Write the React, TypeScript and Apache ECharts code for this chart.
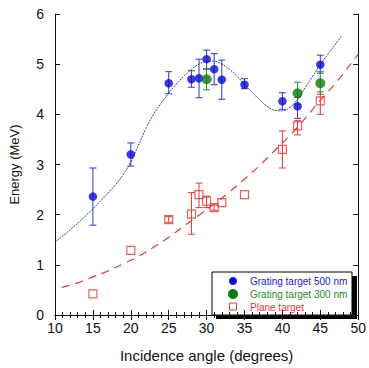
import React, { useEffect, useRef } from "react";
import * as echarts from "echarts";

// Grating target 500 nm
const angles500 = [15, 20, 25, 28, 29, 30, 31, 32, 35, 40, 42, 45];
const energy500 = [2.36, 3.2, 4.62, 4.7, 4.72, 5.1, 4.9, 4.69, 4.59, 4.26, 4.16, 4.99];
const err500Low = [1.79, 2.97, 4.41, 4.54, 4.33, 4.9, 4.59, 4.3, 4.51, 4.1, 3.92, 4.82];
const err500High = [2.93, 3.43, 4.85, 4.87, 5.1, 5.28, 5.21, 5.08, 4.71, 4.43, 4.34, 5.18];

// Grating target 300 nm
const angles300 = [30, 42, 45];
const energy300 = [4.7, 4.42, 4.62];
const err300Low = [4.49, 4.2, 4.4];
const err300High = [4.91, 4.64, 4.85];

// Plane target
const anglesPlane = [15, 20, 25, 28, 29, 30, 31, 32, 35, 40, 42, 45];
const energyPlane = [0.42, 1.29, 1.9, 2.01, 2.4, 2.27, 2.14, 2.24, 2.4, 3.3, 3.77, 4.27];
const errPlaneLow = [0.42, 1.29, 1.85, 1.61, 2.14, 2.14, 2.09, 2.24, 2.4, 2.93, 3.59, 4.0];
const errPlaneHigh = [0.42, 1.29, 1.96, 2.44, 2.63, 2.37, 2.19, 2.24, 2.4, 3.67, 3.88, 4.45];

// Fit curves
const fit500X = [10, 12, 14, 16, 18, 19, 20, 21, 22, 23, 24, 25, 26, 27, 28, 29, 30, 31, 32, 33, 34, 35, 36, 37, 38, 39, 40, 41, 42, 43, 44, 45, 46, 47, 47.8];
const fit500E = [1.45, 1.7, 1.97, 2.27, 2.6, 2.8, 3.05, 3.38, 3.72, 4.0, 4.22, 4.42, 4.6, 4.76, 4.9, 5.0, 5.06, 5.06, 5.0, 4.9, 4.76, 4.6, 4.44, 4.29, 4.16, 4.08, 4.07, 4.14, 4.3, 4.53, 4.76, 4.99, 5.2, 5.4, 5.56];
const fitPlaneX = [10.9, 13, 15, 17, 19, 21, 23, 25, 27, 29, 31, 33, 35, 37, 39, 41, 43, 45, 47, 49, 50];
const fitPlaneE = [0.55, 0.64, 0.76, 0.88, 1.02, 1.17, 1.35, 1.55, 1.77, 1.99, 2.21, 2.45, 2.71, 2.98, 3.28, 3.58, 3.92, 4.28, 4.62, 5.0, 5.2];

// Axis ticks
const xMin = 10, xMax = 50, xStep = 5;
const yMin = 0, yMax = 6, yStep = 1;

const legendLabels = ["Grating target 500 nm", "Grating target 300 nm", "Plane target"];

const FONT = "Liberation Sans, Arial, Helvetica, sans-serif";
const BLUE = "#0a0ad2";
const BLUE_ERR = "#3535c8";
const GREEN = "#0b7a0b";
const GREEN_ERR = "#2e8a2e";
const RED = "#e03a3a";
const FIT_BLUE = "#2d4a7c";

function pairs(xs: number[], ys: number[]) {
  return xs.map((x, i) => [x, ys[i]]);
}
function errs(xs: number[], lo: number[], hi: number[]) {
  return xs
    .map((x, i) => [x, lo[i], hi[i]])
    .filter((d) => d[2] - d[1] > 0.01);
}

function errorSeries(data: number[][], color: string, z: number) {
  return {
    type: "custom",
    z,
    data,
    encode: { x: 0, y: [1, 2] },
    renderItem: (params: any, api: any) => {
      const x = api.value(0);
      const lo = api.value(1);
      const hi = api.value(2);
      const p1 = api.coord([x, hi]);
      const p2 = api.coord([x, lo]);
      const cap = 3.5;
      const style = { stroke: color, lineWidth: 1 };
      return {
        type: "group",
        children: [
          { type: "line", shape: { x1: p1[0], y1: p1[1], x2: p2[0], y2: p2[1] }, style },
          { type: "line", shape: { x1: p1[0] - cap, y1: p1[1], x2: p1[0] + cap, y2: p1[1] }, style },
          { type: "line", shape: { x1: p2[0] - cap, y1: p2[1], x2: p2[0] + cap, y2: p2[1] }, style },
        ],
      };
    },
  };
}

export default function App() {
  const ref = useRef<HTMLDivElement>(null);
  useEffect(() => {
    document.body.style.margin = "0";
    document.body.style.overflow = "hidden";
    document.documentElement.style.overflow = "hidden";
    if (!ref.current) return;
    const chart = echarts.init(ref.current, null, { renderer: "svg" });
    const axisLine = { show: true, lineStyle: { color: "#111", width: 1 } };
    const labelStyle = { color: "#111", fontFamily: FONT, fontSize: 14 };
    chart.setOption({
      animation: false,
      backgroundColor: "#fff",
      grid: { left: 55, right: 8, top: 14, bottom: 48, containLabel: false },
      xAxis: [
        {
          type: "value",
          min: xMin,
          max: xMax,
          interval: xStep,
          position: "bottom",
          name: "Incidence angle (degrees)",
          nameLocation: "middle",
          nameGap: 33,
          nameTextStyle: { color: "#111", fontFamily: FONT, fontSize: 15 },
          axisLine,
          axisTick: { show: true, inside: true, length: 5, lineStyle: { color: "#111" } },
          minorTick: { show: true, splitNumber: 5, length: 3, lineStyle: { color: "#111" } },
          axisLabel: { ...labelStyle, margin: 6 },
          splitLine: { show: false },
        },
        {
          type: "value",
          min: xMin,
          max: xMax,
          interval: xStep,
          position: "top",
          axisLine,
          axisTick: { show: true, inside: true, length: 5, lineStyle: { color: "#111" } },
          minorTick: { show: true, splitNumber: 5, length: 3, lineStyle: { color: "#111" } },
          axisLabel: { show: false },
          splitLine: { show: false },
        },
      ],
      yAxis: [
        {
          type: "value",
          min: yMin,
          max: yMax,
          interval: yStep,
          position: "left",
          name: "Energy (MeV)",
          nameLocation: "middle",
          nameGap: 34,
          nameTextStyle: { color: "#111", fontFamily: FONT, fontSize: 13 },
          axisLine,
          axisTick: { show: true, inside: true, length: 5, lineStyle: { color: "#111" } },
          axisLabel: { ...labelStyle, margin: 11 },
          splitLine: { show: false },
        },
        {
          type: "value",
          min: yMin,
          max: yMax,
          interval: yStep,
          position: "right",
          axisLine,
          axisTick: { show: true, inside: true, length: 5, lineStyle: { color: "#111" } },
          axisLabel: { show: false },
          splitLine: { show: false },
        },
      ],
      series: [
        {
          type: "line",
          data: pairs(fit500X, fit500E),
          smooth: 0.4,
          showSymbol: false,
          lineStyle: { color: FIT_BLUE, width: 1, type: [2, 1] },
          z: 1,
        },
        {
          type: "line",
          data: pairs(fitPlaneX, fitPlaneE),
          smooth: 0.4,
          showSymbol: false,
          lineStyle: { color: RED, width: 1.2, type: [8, 6] },
          z: 1,
        },
        errorSeries(errs(anglesPlane, errPlaneLow, errPlaneHigh), RED, 2),
        errorSeries(errs(angles500, err500Low, err500High), BLUE_ERR, 3),
        errorSeries(errs(angles300, err300Low, err300High), GREEN_ERR, 4),
        {
          type: "scatter",
          data: pairs(anglesPlane, energyPlane),
          symbol: "rect",
          symbolSize: 8,
          itemStyle: { color: "rgba(255,255,255,0)", borderColor: RED, borderWidth: 1.2 },
          z: 5,
        },
        {
          type: "scatter",
          data: pairs(angles500, energy500),
          symbol: "circle",
          symbolSize: 8.5,
          itemStyle: { color: BLUE },
          z: 6,
        },
        {
          type: "scatter",
          data: pairs(angles300, energy300),
          symbol: "circle",
          symbolSize: 10,
          itemStyle: { color: GREEN },
          z: 7,
        },
      ],
      graphic: [
        {
          type: "group",
          z: 100,
          children: [
            { type: "rect", shape: { x: 216, y: 276, width: 141, height: 43 }, style: { fill: "#000" } },
            { type: "rect", shape: { x: 212, y: 272, width: 140, height: 43 }, style: { fill: "#fff", stroke: "#000", lineWidth: 1 } },
            { type: "circle", shape: { cx: 233, cy: 281, r: 4 }, style: { fill: BLUE } },
            { type: "circle", shape: { cx: 233, cy: 294, r: 5 }, style: { fill: GREEN } },
            { type: "rect", shape: { x: 229.5, y: 303, width: 7, height: 7 }, style: { fill: "#fff", stroke: RED, lineWidth: 1 } },
            { type: "text", x: 250, y: 281, style: { text: legendLabels[0], fill: "#2222c8", font: `10px ${FONT}`, verticalAlign: "middle" } },
            { type: "text", x: 250, y: 294, style: { text: legendLabels[1], fill: "#1f8a1f", font: `10px ${FONT}`, verticalAlign: "middle" } },
            { type: "text", x: 250, y: 307, style: { text: legendLabels[2], fill: "#e03a3a", font: `10px ${FONT}`, verticalAlign: "middle" } },
          ],
        },
      ],
    });
    return () => chart.dispose();
  }, []);
  return <div ref={ref} style={{ width: 369, height: 368, overflow: "hidden" }} />;
}
